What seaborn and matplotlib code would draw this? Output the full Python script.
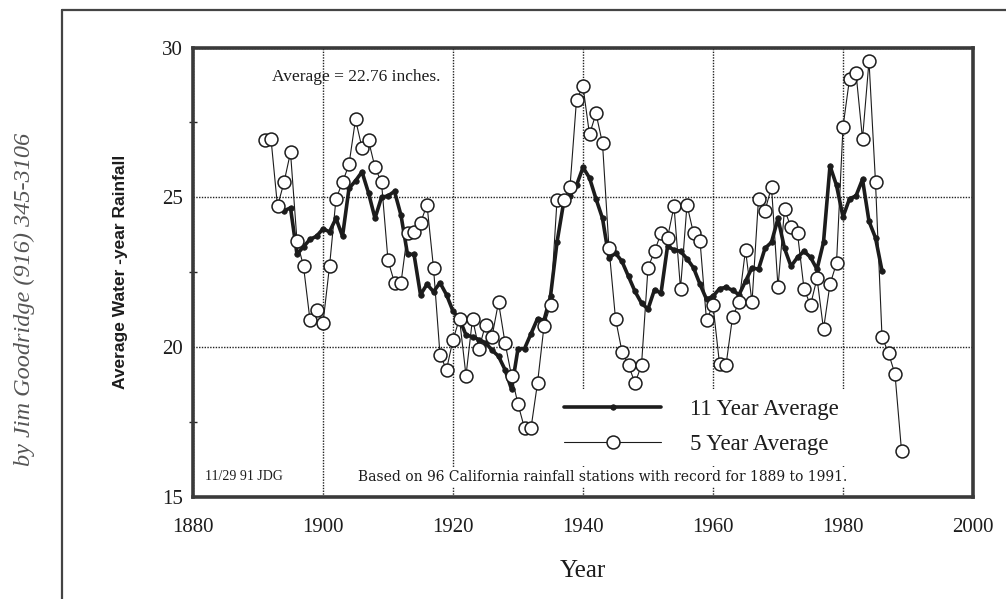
import matplotlib
matplotlib.use("Agg")
import matplotlib.pyplot as plt
from matplotlib.lines import Line2D
from matplotlib.ticker import MultipleLocator
import seaborn as sns
import numpy as np

# ---------------- data ----------------
years_5yr = list(range(1891, 1990))
avg_5yr = [
    26.9, 26.95, 24.7, 25.5, 26.5, 23.55, 22.7, 20.9, 21.25, 20.8,
    22.7, 24.95, 25.5, 26.1, 27.6, 26.65, 26.9, 26.0, 25.5, 22.9,
    22.15, 22.15, 23.8, 23.85, 24.15, 24.75, 22.65, 19.75, 19.25, 20.25,
    20.95, 19.05, 20.95, 19.95, 20.75, 20.35, 21.5, 20.15, 19.05, 18.1,
    17.3, 17.3, 18.8, 20.7, 21.4, 24.9, 24.9, 25.35, 28.25, 28.7,
    27.1, 27.8, 26.8, 23.3, 20.95, 19.85, 19.4, 18.8, 19.4, 22.65,
    23.2, 23.8, 23.65, 24.7, 21.95, 24.75, 23.8, 23.55, 20.9, 21.4,
    19.45, 19.4, 21.0, 21.5, 23.25, 21.5, 24.95, 24.55, 25.35, 22.0,
    24.6, 24.0, 23.8, 21.95, 21.4, 22.3, 20.6, 22.1, 22.8, 27.35,
    28.95, 29.15, 26.95, 29.55, 25.5, 20.35, 19.8, 19.1, 16.55,
]

years_11yr = list(range(1894, 1987))
avg_11yr = [
    24.55, 24.65, 23.1, 23.35, 23.6, 23.7, 23.95, 23.85, 24.3, 23.7,
    25.3, 25.55, 25.85, 25.15, 24.3, 25.0, 25.05, 25.2, 24.4, 23.1,
    23.1, 21.75, 22.1, 21.85, 22.15, 21.75, 21.2, 20.95, 20.4, 20.35,
    20.25, 20.15, 19.9, 19.7, 19.25, 18.6, 19.95, 19.95, 20.45, 20.95,
    20.9, 21.7, 23.5, 24.8, 25.05, 25.4, 26.0, 25.65, 24.95, 24.3,
    22.97, 23.14, 22.86, 22.36, 21.86, 21.47, 21.27, 21.92, 21.8, 23.36,
    23.25, 23.2, 22.95, 22.65, 22.1, 21.6, 21.7, 21.95, 22.0, 21.9,
    21.75, 22.2, 22.65, 22.6, 23.3, 23.5, 24.3, 23.3, 22.7, 23.0,
    23.2, 23.0, 22.6, 23.5, 26.05, 25.4, 24.35, 24.95, 25.05, 25.6,
    24.2, 23.65, 22.55,
]

x_ticks = [1880, 1900, 1920, 1940, 1960, 1980, 2000]
y_ticks = [15, 20, 25, 30]

label_11 = "11 Year Average"
label_5 = "5 Year Average"
average_note = "Average = 22.76 inches."
date_note = "11/29 91 JDG"
source_note = "Based on 96 California rainfall stations with record for 1889 to 1991."
author_note = "by Jim Goodridge (916) 345-3106"

# ---------------- style ----------------
sns.set_style("white")
plt.rcParams["font.family"] = ["Liberation Serif", "DejaVu Serif"]

ink = "#1c1c1c"

fig = plt.figure(figsize=(10.06, 5.99), dpi=100)
fig.patch.set_facecolor("white")
ax = fig.add_axes([0.19185, 0.17028, 0.77535, 0.7504])

sns.lineplot(x=years_11yr, y=avg_11yr, ax=ax, color=ink, linewidth=2.6,
             marker="o", markersize=4, markerfacecolor=ink,
             markeredgecolor=ink, markeredgewidth=0.5, label=label_11,
             zorder=3)
sns.lineplot(x=years_5yr, y=avg_5yr, ax=ax, color=ink, linewidth=0.8,
             marker="o", markersize=9.3, markerfacecolor="white",
             markeredgecolor=ink, markeredgewidth=1.1, label=label_5,
             zorder=4)

ax.set_xlim(1880, 2000)
ax.set_ylim(15, 30)
ax.set_xticks(x_ticks)
ax.set_yticks(y_ticks)
ax.yaxis.set_minor_locator(MultipleLocator(2.5))

ax.set_axisbelow(True)
ax.grid(True, which="major", linestyle=(0, (1, 1)), color="#222222",
        linewidth=1.0)

for sp in ax.spines.values():
    sp.set_visible(True)
    sp.set_linewidth(2.6)
    sp.set_color("#3a3a3a")

ax.tick_params(axis="x", direction="in", length=7, width=1.2, pad=15,
               labelsize=15, colors=ink)
ax.tick_params(axis="y", which="major", direction="inout", length=9,
               width=1.2, pad=3, labelsize=15, colors=ink)
ax.tick_params(axis="y", which="minor", direction="inout", length=6,
               width=1.0, left=True)

ax.set_xlabel("Year", fontsize=18, color=ink, labelpad=17)
ax.set_ylabel("Average Water -year Rainfall", fontsize=12.5,
              fontweight="bold", family=["Liberation Sans", "DejaVu Sans"],
              color=ink, labelpad=24)

leg = ax.legend(loc="center left", bbox_to_anchor=(0.463, 0.155),
                borderaxespad=0, borderpad=0.45, handlelength=4.2,
                handletextpad=1.3, labelspacing=0.6, fontsize=16.5,
                frameon=True, facecolor="white", edgecolor="none",
                framealpha=1.0, numpoints=1)
leg.get_frame().set_linewidth(0)
leg.set_zorder(2)
for t in leg.get_texts():
    t.set_color(ink)

ax.text(0.101, 0.934, average_note, transform=ax.transAxes, fontsize=12.5,
        ha="left", va="center", color=ink)
ax.text(0.015, 0.045, date_note, transform=ax.transAxes, fontsize=10,
        ha="left", va="center", color=ink)
ax.text(0.2115, 0.045, source_note, transform=ax.transAxes, fontsize=10,
        family=["DejaVu Serif"], ha="left", va="center", color=ink,
        bbox=dict(facecolor="white", edgecolor="none", pad=2))

fig.text(0.024, 0.5, author_note, rotation=90, fontsize=17.5,
         style="italic", ha="center", va="center", color="#555555")

# page frame
fig.add_artist(Line2D([0.0616, 0.0616], [0.0, 0.983], transform=fig.transFigure,
                      color="#444444", linewidth=1.6))
fig.add_artist(Line2D([0.0616, 1.0], [0.983, 0.983], transform=fig.transFigure,
                      color="#444444", linewidth=1.6))

fig.savefig("out.png", dpi=100, facecolor="white")
